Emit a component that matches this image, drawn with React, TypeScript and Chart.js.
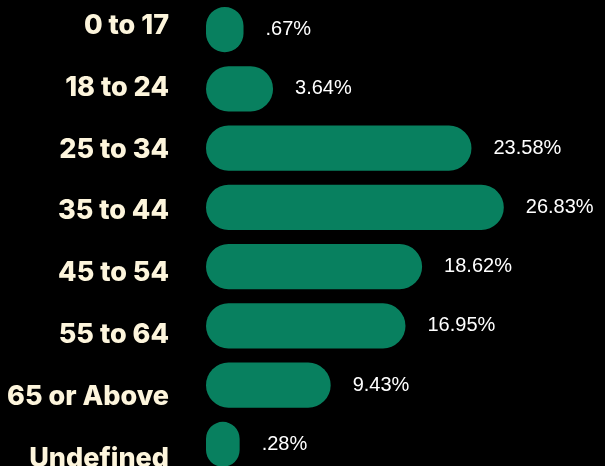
import React, { useEffect, useRef } from "react";
import { Chart, registerables } from "chart.js";

Chart.register(...registerables);

const ageGroups = ["0 to 17", "18 to 24", "25 to 34", "35 to 44", "45 to 54", "55 to 64", "65 or Above", "Undefined"];
const shares = [0.67, 3.64, 23.58, 26.83, 18.62, 16.95, 9.43, 0.28];
const shareLabels = [".67%", "3.64%", "23.58%", "26.83%", "18.62%", "16.95%", "9.43%", ".28%"];

const BAR_COLOR = "#08805F";
const LABEL_COLOR = "#FDF5DC";
const AXIS_BASE = -3.1;

const valueLabelPlugin = {
  id: "valueLabels",
  afterDatasetsDraw(chart: any) {
    const ctx = chart.ctx;
    const meta = chart.getDatasetMeta(0);
    ctx.save();
    ctx.font = "20px 'Liberation Sans', Arial, sans-serif";
    ctx.fillStyle = "#FFFFFF";
    ctx.textAlign = "left";
    ctx.textBaseline = "middle";
    meta.data.forEach((bar: any, i: number) => {
      ctx.fillText(shareLabels[i], bar.x + 22, bar.y);
    });
    ctx.restore();
  },
};

export default function App() {
  const ref = useRef<HTMLCanvasElement | null>(null);
  useEffect(() => {
    if (!ref.current) return;
    const chart = new Chart(ref.current, {
      type: "bar",
      data: {
        labels: ageGroups,
        datasets: [
          {
            data: shares,
            backgroundColor: BAR_COLOR,
            borderRadius: 100,
            borderSkipped: false,
            base: AXIS_BASE,
            barPercentage: 0.76,
            categoryPercentage: 1,
          } as any,
        ],
      },
      options: {
        indexAxis: "y",
        animation: false,
        responsive: false,
        layout: { padding: { top: 0, bottom: 6, left: 0, right: 0 } },
        plugins: { legend: { display: false }, tooltip: { enabled: false } },
        scales: {
          x: { type: "linear", min: AXIS_BASE, max: 37, display: false },
          y: { type: "category", display: false },
          y2: {
            type: "linear",
            axis: "y",
            position: "left",
            reverse: true,
            offset: false,
            bounds: "data",
            min: -0.42,
            max: 7.25,
            grid: { display: false, drawTicks: false, offset: false },
            border: { display: false },
            afterBuildTicks: (s: any) => {
              s.ticks = ageGroups.map((_, i) => ({ value: i }));
            },
            afterFit: (s: any) => {
              s.width = 206;
              s.paddingTop = 0;
              s.paddingBottom = 0;
            },
            ticks: {
              autoSkip: false,
              padding: 37,
              color: LABEL_COLOR,
              font: { family: "Inter, 'Open Sans', sans-serif", size: 27, weight: 800 as any },
              callback: (v: any) => {
                const i = Math.round(Number(v));
                return ageGroups[i] !== undefined ? ageGroups[i] : "";
              },
            },
          } as any,
        },
      },
      plugins: [valueLabelPlugin],
    });
    return () => chart.destroy();
  }, []);
  return (
    <div style={{ position: "fixed", left: 0, top: 0, width: 605, height: 480, background: "#000", overflow: "hidden" }}>
      <canvas ref={ref} width={605} height={480} style={{ display: "block" }} />
    </div>
  );
}
